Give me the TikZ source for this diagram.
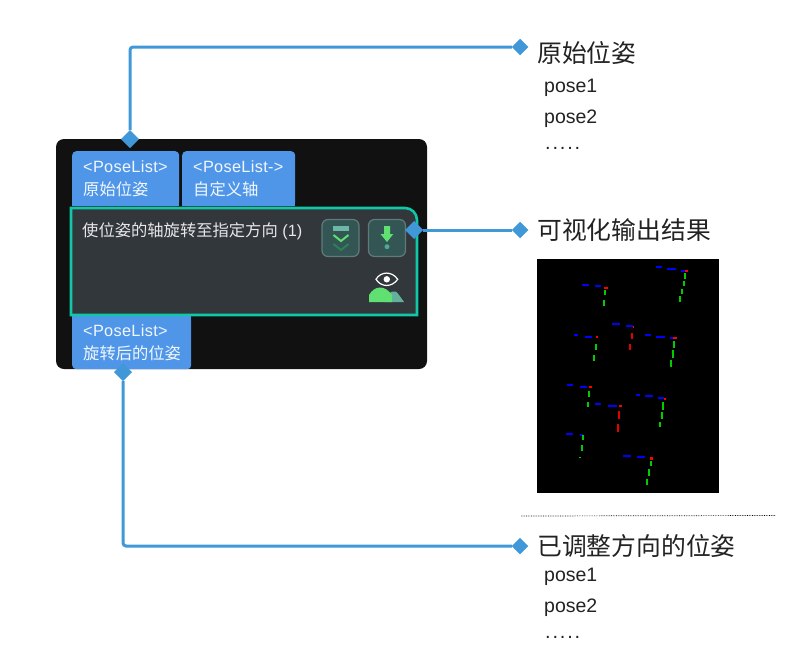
\documentclass[tikz,border=0pt]{standalone}
\usepackage{fontspec}
\setmainfont{Liberation Sans}
\newfontfamily\cjk{Noto Sans CJK SC}
\newfontfamily\tabfont[LetterSpace=2]{Liberation Sans}
\newfontfamily\dotfont[LetterSpace=9]{Liberation Sans}
\usetikzlibrary{positioning, shapes.geometric}

\definecolor{panelbg}{HTML}{111111}
\definecolor{bodybg}{HTML}{32373C}
\definecolor{bodyline}{HTML}{10C8A8}
\definecolor{portblue}{HTML}{5096E8}
\definecolor{linkblue}{HTML}{4098D8}
\definecolor{btnbg}{HTML}{335654}
\definecolor{btnline}{HTML}{5F7B79}
\definecolor{iconbar}{HTML}{6DB8A4}
\definecolor{icongreen}{HTML}{60E070}
\definecolor{icondim}{HTML}{2F7F58}
\definecolor{icondot}{HTML}{4DA898}
\definecolor{hillback}{HTML}{62B09C}
\definecolor{headtext}{HTML}{222222}

\begin{document}
\begin{tikzpicture}[
			x=1pt, y=-1pt,
			panelbox/.style={rectangle, fill=panelbg, rounded corners=8pt, minimum width=371pt, minimum height=230pt},
			tab/.style={rectangle, fill=portblue, rounded corners=4pt, anchor=north west, align=left, inner xsep=11pt, inner ysep=0pt,
					text=white!92!portblue, font=\fontsize{16.3}{23.5}\selectfont},
			btn/.style={rectangle, draw=btnline, fill=btnbg, line width=1.2pt, rounded corners=6pt, minimum size=37pt},
			tip/.style={diamond, fill=linkblue, inner sep=0pt, outer sep=0pt, minimum size=16.5pt},
			link/.style={draw=linkblue, line width=3pt, rounded corners=3pt},
			head/.style={anchor=base west, inner sep=0pt, text=headtext, font=\fontsize{24.8}{28}\selectfont\cjk},
			item/.style={anchor=base west, inner sep=0pt, text=headtext, font=\fontsize{19.5}{24}\selectfont},
			dots/.style={anchor=base west, inner sep=0pt, text=headtext, font=\fontsize{20}{24}\selectfont\dotfont},
			seg/.style={line width=1.7pt},
		]
		\useasboundingbox (0, 0) rectangle (790, 672);

		\node (panel) [panelbox] at (241.5, 254) {};
		% square corners of the ports, under their nodes
		\fill [portblue] (72, 180) rectangle (179, 206);
		\fill [portblue] (182, 180) rectangle (295, 206);
		\fill [portblue] (72, 316) rectangle (191, 340);
		\node (inA)  [tab, text width=85pt, minimum height=55pt] at (72, 151)  {{\tabfont <PoseList>}\\{\cjk 原始位姿}};
		\node (inB)  [tab, text width=91pt, minimum height=55pt] at (182, 151) {\mbox{\tabfont <PoseList->}\\{\cjk 自定义轴}};
		\node (outA) [tab, text width=97pt, minimum height=53pt] at (72, 316)  {{\tabfont <PoseList>}\\{\cjk 旋转后的位姿}};

		% body of the step, only one corner is round
		\draw [fill=bodybg, draw=bodyline, line width=2.6pt] (71, 315) -- (71, 208) -- (405, 208) arc (270:360:12) -- (417, 315) -- cycle;
		\node (title) [anchor=base west, inner sep=0pt, text=white!88!bodybg, font=\fontsize{16.3}{20}\selectfont] at (82, 236) {{\cjk 使位姿的轴旋转至指定方向} (1)};

		\node (btnA) [btn] at (340.5, 238) {};
		\node (btnB) [btn] at (387, 238) {};
		% icon of the left button
		\fill [iconbar] (332.7, 225.7) rectangle (349.3, 230.7);
		\draw [icongreen, line width=2pt] (333.5, 235) -- (341, 241) -- (348.5, 235);
		\draw [icondim, line width=2pt] (333.5, 244) -- (341, 250) -- (348.5, 244);
		% icon of the right button
		\fill [icongreen] (384, 226) -- (390, 226) -- (390, 234) -- (393.3, 234) -- (387, 242) -- (380.5, 234) -- (384, 234) -- cycle;
		\fill [icondot] (387, 246.7) circle (2.5);
		% eye and hills
		\draw [white, line width=1.2pt] (376, 279.3) .. controls (381, 271) and (392, 271) .. (397.7, 279.3) .. controls (392, 287.5) and (381, 287.5) .. (376, 279.3) -- cycle;
		\fill [white] (386.8, 279.3) circle (3.2);
		\fill [hillback] (385, 302) .. controls (388, 291) and (395, 288) .. (399, 295) -- (404, 302) -- cycle;
		\fill [icongreen] (369, 302) -- (369, 295) .. controls (375, 285) and (385, 285) .. (392, 295) -- (392, 302) -- cycle;

		\node (portTop)  [tip, minimum size=18pt] at (130, 139) {};
		\node (portBot)  [tip, minimum size=18pt] at (123, 372) {};
		\node (portSide) [tip, minimum size=18pt] at (414, 230) {};

		\node (tipTop)  [tip] at (520, 47) {};
		\node (tipSide) [tip] at (520, 230) {};
		\node (tipBot)  [tip] at (520, 546) {};

		% step ports to the notes on the right
		\draw [link] (portTop) |- (tipTop);
		\draw [link] (portSide) -- (tipSide);
		\draw [link] (portBot) |- (tipBot);

		\node (headTop) [head] at (537, 62) {原始位姿};
		\node (poseA) [item] at (544, 92.5) {pose1};
		\node (poseB) [item] at (544, 123.5) {pose2};
		\node (dotsA) [dots] at (545, 149) {.....};

		\node (headSide) [head] at (537, 239) {可视化输出结果};

		\node (shot) [rectangle, fill=black, minimum width=182pt, minimum height=234pt] at (628, 376) {};
		% dashes of the poses in the shot
		\foreach \xa/\xb/\ya in {656/662/267.3, 667/676/269, 681/686/270.7, 582/589/285, 595/601.3/286.3,
				612/620/324, 626/633/325.7, 574/578.3/335, 585/592/336.7, 645/650.7/335, 656/665/336.7, 670/675/338,
				566.7/573/385.3, 579.7/586.7/387, 595/601/404, 608/617/405.7, 636/640.3/395, 645/653/396.3, 658/664/398,
				565.7/573/434, 579.7/583.3/435.3, 623/631/455.7, 637/645/457.3}
			\draw [seg, blue] (\xa, \ya) -- (\xb, \ya);
		\foreach \xa/\ya/\yb in {685/273.3/279.3, 683.7/281/286, 682/288.7/294, 680.3/296.3/301.7,
				605/290/295, 603.7/300/306, 596/344.3/350, 594/355.3/361,
				674/341/347.7, 672.7/350/358, 671/359.7/367, 589.3/391/397, 588/402/407,
				663/402/410, 661.7/412.3/419, 660/421.7/427, 583/435.3/440, 581.7/445.3/451, 580/456.7/458.3,
				650.7/461/466.3, 649/469.3/475.7, 647.3/478.7/484.7}
			\draw [seg, green!80!black] (\xa, \ya) -- (\xa, \yb);
		\foreach \xa/\ya/\yb in {632/333/339, 630/344/350.3, 619/411/419, 618/424.3/432}
			\draw [seg, red!90!black] (\xa, \ya) -- (\xa, \yb);
		\foreach \xa/\xb/\ya in {684.7/687.7/270.7, 604/608/288, 632.7/634/327, 596/598/337.3, 673.3/677/338,
				589/592/387.3, 619/622/406.3, 664/666/398.7}
			\draw [seg, red, line width=2pt] (\xa, \ya) -- (\xb, \ya);
		\fill [red] (650, 456.8) rectangle (653, 459.8);

		% separator above the last note
		\coordinate (sepL) at (521, 516);
		\coordinate (sepR) at (775, 515.5);
		\draw [black, line width=0.7pt, densely dotted] (sepL) -- (sepR);

		\node (headBot) [head] at (537, 555) {已调整方向的位姿};
		\node (poseC) [item] at (544, 581) {pose1};
		\node (poseD) [item] at (544, 612.5) {pose2};
		\node (dotsB) [dots] at (545, 638) {.....};
	\end{tikzpicture}
\end{document}
